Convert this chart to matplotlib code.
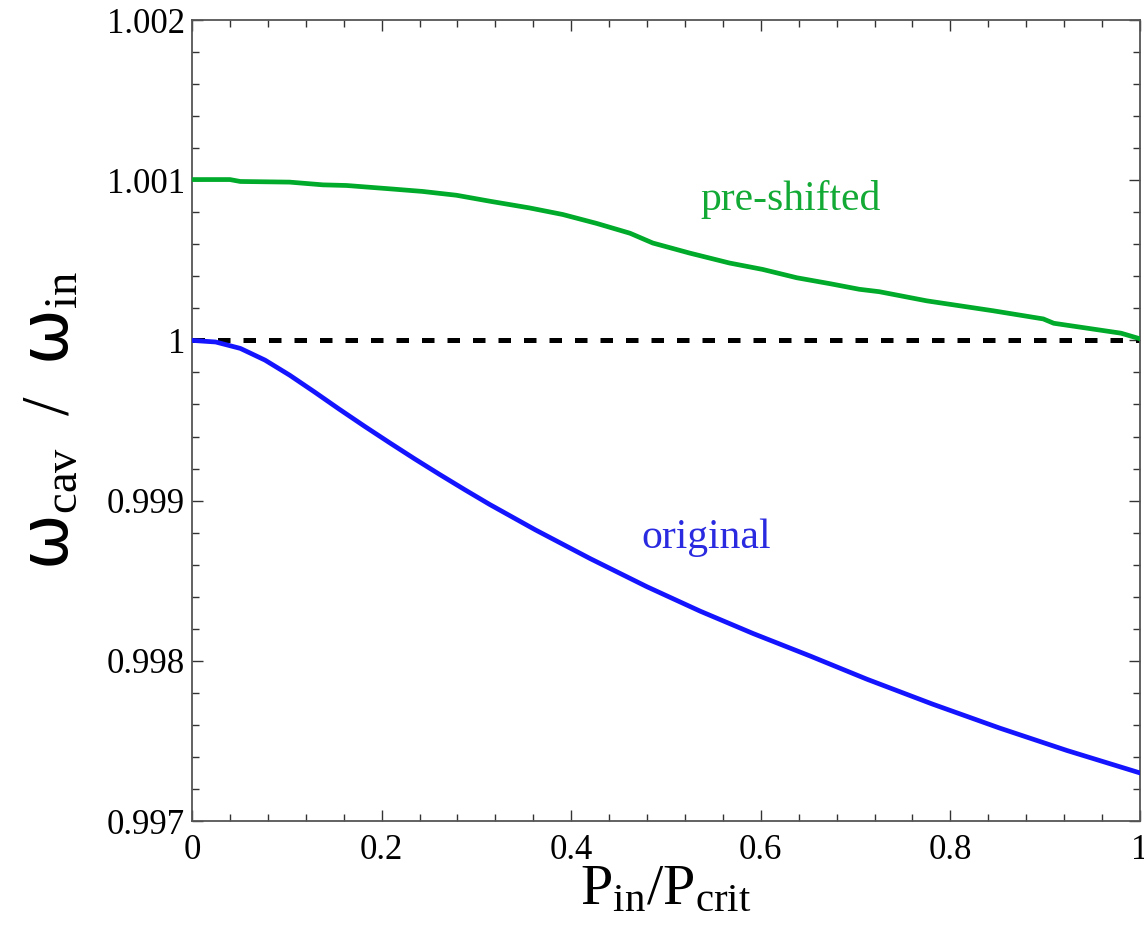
import matplotlib
matplotlib.use("Agg")
import matplotlib.pyplot as plt
from matplotlib.ticker import FixedLocator, FixedFormatter, MultipleLocator

plt.rcParams['font.family'] = ['Liberation Serif', 'DejaVu Serif']
plt.rcParams['mathtext.fontset'] = 'custom'
plt.rcParams['mathtext.rm'] = 'Liberation Serif'
plt.rcParams['mathtext.it'] = 'Liberation Serif:italic'
plt.rcParams['mathtext.sf'] = 'DejaVu Sans'

# cavity frequency ratio vs. normalised input power
p_original = [0.0, 0.025, 0.051, 0.077, 0.103, 0.129, 0.155, 0.182, 0.209, 0.235,
              0.261, 0.288, 0.314, 0.362, 0.420, 0.480, 0.536, 0.592, 0.652,
              0.712, 0.781, 0.852, 0.923, 1.0]
w_original = [1.0, 0.99999, 0.99995, 0.999877, 0.999783, 0.999679, 0.999572,
              0.999464, 0.999359, 0.999260, 0.999164, 0.999067, 0.998976,
              0.998818, 0.998638, 0.998462, 0.998310, 0.998170, 0.998030,
              0.997885, 0.997730, 0.997580, 0.997440, 0.997300]

p_shifted = [0.0, 0.040, 0.051, 0.103, 0.138, 0.163, 0.209, 0.243, 0.279, 0.314,
             0.356, 0.391, 0.427, 0.462, 0.486, 0.525, 0.567, 0.602, 0.638, 0.673,
             0.704, 0.725, 0.775, 0.845, 0.898, 0.909, 0.980, 1.0]
w_shifted = [1.001004, 1.001004, 1.000992, 1.000988, 1.000971, 1.000967, 1.000946,
             1.000930, 1.000906, 1.000869, 1.000827, 1.000786, 1.000730, 1.000669,
             1.000608, 1.000545, 1.000483, 1.000443, 1.000391, 1.000354, 1.000319,
             1.000304, 1.000247, 1.000185, 1.000134, 1.000107, 1.000045, 1.00001]

x_ticks = [0.0, 0.2, 0.4, 0.6, 0.8, 1.0]
x_tick_labels = ["0", "0.2", "0.4", "0.6", "0.8", "1"]
y_ticks = [0.997, 0.998, 0.999, 1.0, 1.001, 1.002]
y_tick_labels = ["0.997", "0.998", "0.999", "1", "1.001", "1.002"]

green = '#00aa2a'
blue = '#1414ff'

fig = plt.figure(figsize=(11.44, 9.30), dpi=100)
ax = fig.add_axes([192 / 1144, 1 - 821 / 930, (1140 - 192) / 1144, (821 - 20) / 930])

ax.plot([0.0, 1.0], [1.0, 1.0], color='black', lw=3.6, dashes=(2.5, 2.6),
        solid_capstyle='butt', dash_capstyle='butt', zorder=2)
ax.plot(p_shifted, w_shifted, color=green, lw=3.4, zorder=3,
        solid_joinstyle='round')
ax.plot(p_original, w_original, color=blue, lw=3.4, zorder=3,
        solid_joinstyle='round')

ax.text(0.631, 1.000877, 'pre-shifted', color='#12aa35', fontsize=30,
        ha='center', va='center')
ax.text(0.542, 0.998769, 'original', color='#2a2ae0', fontsize=30,
        ha='center', va='center')

ax.set_xlim(0, 1)
ax.set_ylim(0.997, 1.002)
ax.xaxis.set_major_locator(FixedLocator(x_ticks))
ax.xaxis.set_major_formatter(FixedFormatter(x_tick_labels))
ax.yaxis.set_major_locator(FixedLocator(y_ticks))
ax.yaxis.set_major_formatter(FixedFormatter(y_tick_labels))
ax.xaxis.set_minor_locator(MultipleLocator(0.04))
ax.yaxis.set_minor_locator(MultipleLocator(0.0002))

ax.tick_params(which='both', direction='in', top=True, right=True,
               color='#333333', width=1.0, labelsize=25)
ax.tick_params(which='major', length=8)
ax.tick_params(which='minor', length=5)
ax.tick_params(axis='y', pad=5)
ax.tick_params(axis='x', pad=9)
for s in ax.spines.values():
    s.set_color('#555555')
    s.set_linewidth(1.3)

ax.set_xlabel(r'$\mathrm{P_{in}/P_{crit}}$', fontsize=42, labelpad=-2)
ax.set_ylabel(r'$\mathsf{\omega}_{\mathrm{cav}}\ \ /\ \ \mathsf{\omega}_{\mathrm{in}}$',
              fontsize=48, labelpad=18)

fig.savefig('out.png', dpi=100)
